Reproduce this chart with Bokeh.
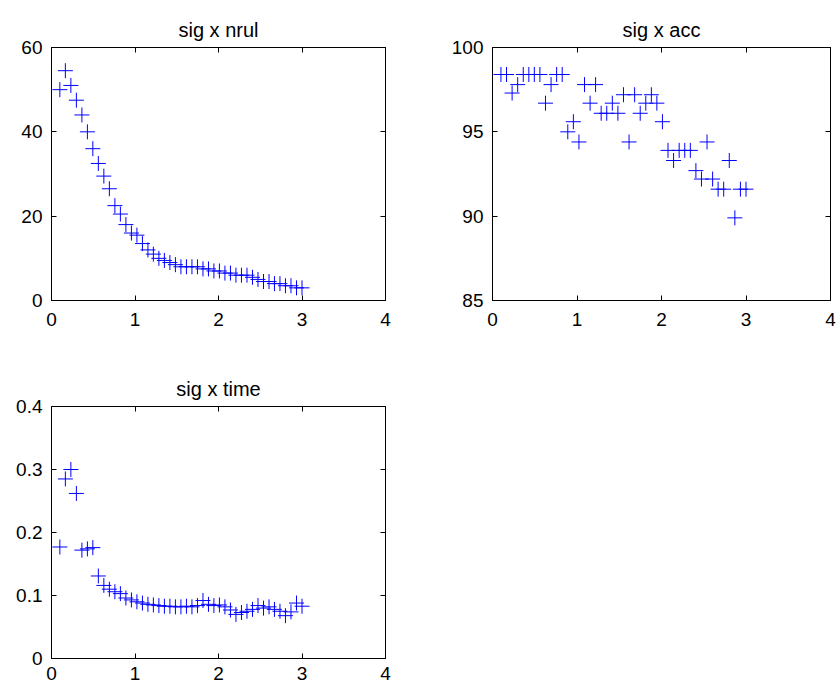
from bokeh.plotting import figure
from bokeh.layouts import column, row
from bokeh.models import LinearAxis, FixedTicker, Range1d
from bokeh.embed import file_html
from bokeh.resources import INLINE

# ---- data ----
sig = [0.1, 0.166, 0.232, 0.298, 0.364, 0.43, 0.495, 0.561, 0.627, 0.693,
       0.759, 0.825, 0.891, 0.957, 1.023, 1.089, 1.155, 1.220, 1.286, 1.352,
       1.418, 1.484, 1.55, 1.616, 1.682, 1.748, 1.814, 1.880, 1.945, 2.011,
       2.077, 2.143, 2.209, 2.275, 2.341, 2.407, 2.473, 2.539, 2.605, 2.670,
       2.736, 2.802, 2.868, 2.934, 3.0]

nrul = [50, 54.5, 51, 47.5, 44, 40, 36, 32.5, 29.5, 26.5,
        22.5, 20.5, 18, 16, 15.5, 13.5, 12, 11, 10, 9.5,
        9, 8.5, 8, 8, 8, 8, 7.5, 7.5, 7, 7,
        6.5, 6.5, 6, 6, 6, 5.5, 5, 4.5, 4.5, 4,
        4, 3.5, 3.5, 3, 3]

acc = [98.4, 98.4, 97.3, 97.8, 98.4, 98.4, 98.4, 98.4, 96.7, 97.8,
       98.4, 98.4, 95.0, 95.6, 94.4, 97.8, 96.7, 97.8, 96.1, 96.1,
       96.7, 96.1, 97.2, 94.4, 97.2, 96.1, 96.7, 97.2, 96.7, 95.6,
       93.9, 93.3, 93.9, 93.9, 93.9, 92.7, 92.2, 94.4, 92.2, 91.6,
       91.6, 93.3, 89.9, 91.6, 91.6]

time_ = [0.177, 0.285, 0.300, 0.262, 0.172, 0.174, 0.176, 0.131, 0.116, 0.110,
         0.106, 0.103, 0.096, 0.093, 0.090, 0.088, 0.086, 0.085, 0.084, 0.083,
         0.083, 0.082, 0.082, 0.083, 0.082, 0.084, 0.092, 0.086, 0.084, 0.085,
         0.082, 0.077, 0.070, 0.073, 0.075, 0.078, 0.084, 0.080, 0.082, 0.078,
         0.075, 0.068, 0.074, 0.088, 0.083]

x_ticks = [0, 1, 2, 3, 4]
nrul_ticks = [0, 20, 40, 60]
acc_ticks = [85, 90, 95, 100]
time_ticks = [0, 0.1, 0.2, 0.3, 0.4]
time_tick_labels = ["0", "0.1", "0.2", "0.3", "0.4"]

FONT = "Liberation Sans"
BLUE = "#0000ff"
FS = "19px"


def style_axis(ax, ticks, show_labels=True, overrides=None, standoff=8):
    ax.ticker = FixedTicker(ticks=ticks)
    ax.major_tick_in = 5
    ax.major_tick_out = 0
    ax.minor_tick_line_color = None
    ax.axis_line_color = "black"
    ax.major_tick_line_color = "black"
    ax.major_label_text_font = FONT
    ax.major_label_text_font_size = FS
    ax.major_label_text_color = "black"
    ax.major_label_standoff = standoff
    if overrides:
        ax.major_label_overrides = overrides
    if not show_labels:
        ax.major_label_text_color = None
        ax.major_label_text_font_size = "1px"
        ax.major_label_standoff = 0


def make(title, ys, yr, yticks, w, h, bl, br, bt, bb, xstand, overrides=None):
    p = figure(width=w, height=h, output_backend="svg", toolbar_location=None,
               x_range=Range1d(0, 4), y_range=Range1d(*yr),
               min_border_left=bl, min_border_right=br,
               min_border_top=bt, min_border_bottom=bb)
    p.title.text = title
    p.title.align = "center"
    p.title.text_font = FONT
    p.title.text_font_size = "20px"
    p.title.text_font_style = "normal"
    p.title.text_color = "black"
    p.title.standoff = 13
    p.xgrid.visible = False
    p.ygrid.visible = False
    p.outline_line_color = "black"
    p.background_fill_color = "white"
    p.border_fill_color = "white"
    style_axis(p.xaxis[0], x_ticks, standoff=xstand)
    style_axis(p.yaxis[0], yticks, overrides=overrides, standoff=9)
    top = LinearAxis()
    style_axis(top, x_ticks, show_labels=False)
    right = LinearAxis()
    style_axis(right, yticks, show_labels=False)
    p.add_layout(top, "above")
    p.add_layout(right, "right")
    p.scatter(sig, ys, marker="cross", size=15, line_color=BLUE, line_width=1)
    return p


p1 = make("sig x nrul", nrul, (0, 60), nrul_ticks, 440, 360, 51, 55, 47, 60, 12)
p2 = make("sig x acc", acc, (85, 100), acc_ticks, 396, 360, 52, 6, 47, 60, 12)
p3 = make("sig x time", time_, (0, 0.4), time_ticks, 440, 328, 51, 55, 46, 30, 8,
          overrides={t: l for t, l in zip(time_ticks, time_tick_labels)})

layout = column(row(p1, p2), p3)
open("out.html", "w").write(file_html(layout, INLINE))
